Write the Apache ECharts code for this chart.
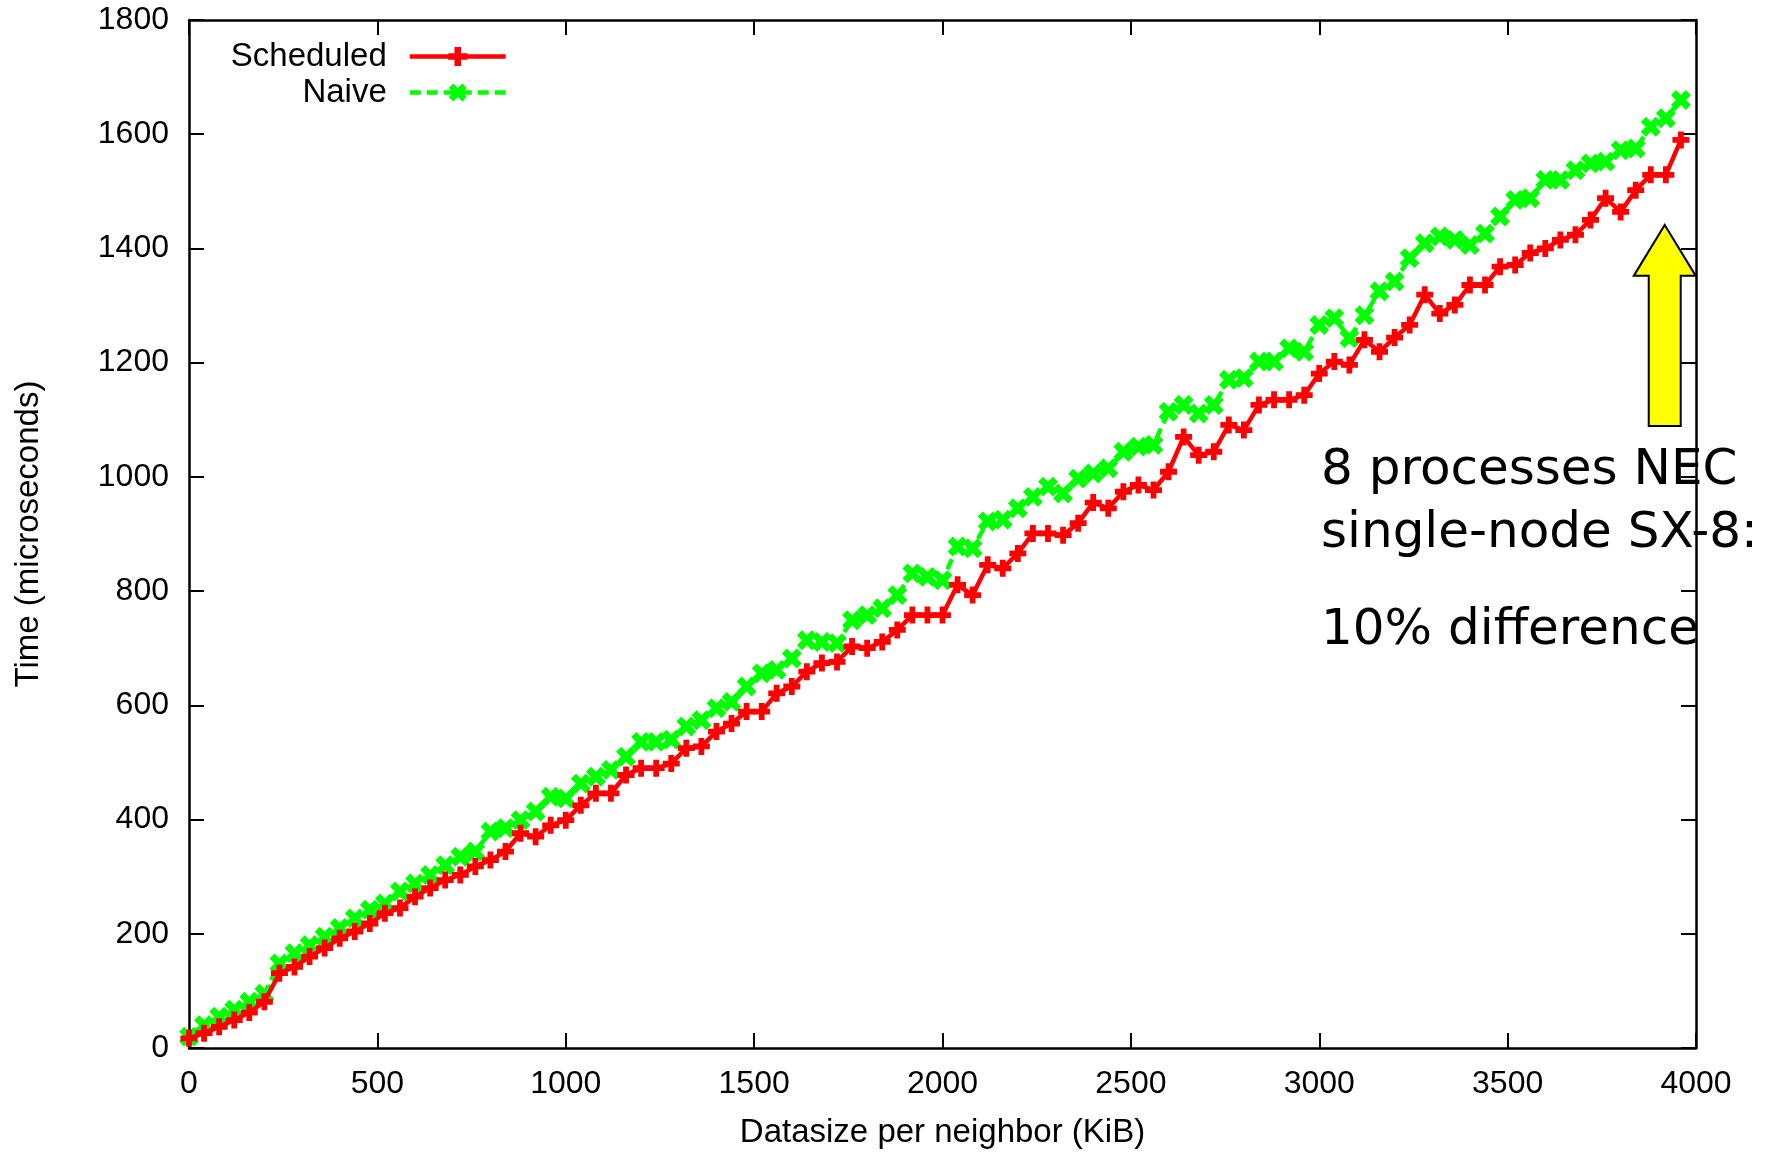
<!DOCTYPE html>
<html>
<head>
<meta charset="utf-8">
<script src="https://cdn.jsdelivr.net/npm/echarts/dist/echarts.min.js"></script>
<style>html,body{margin:0;padding:0;background:#fff}#c{width:1767px;height:1155px}</style>
</head>
<body>
<div id="c"></div>
<script>
// Datasize per neighbor (KiB)
const datasize = [0,40,80,120,160,200,240,280,320,360,400,440,480,520,560,600,640,680,720,760,
  800,840,880,920,960,1000,1040,1080,1120,1160,1200,1240,1280,1320,1360,1400,1440,1480,1520,1560,
  1600,1640,1680,1720,1760,1800,1840,1880,1920,1960,2000,2040,2080,2120,2160,2200,2240,2280,2320,2360,
  2400,2440,2480,2520,2560,2600,2640,2680,2720,2760,2800,2840,2880,2920,2960,3000,3040,3080,3120,3160,
  3200,3240,3280,3320,3360,3400,3440,3480,3520,3560,3600,3640,3680,3720,3760,3800,3840,3880,3920,3960];
// Time (microseconds)
const scheduled = [17,26,37,49,62,81,131,142,160,175,192,204,218,236,245,265,280,294,303,318,
  329,344,376,370,390,399,425,446,446,478,490,490,498,525,528,554,568,589,589,621,
  633,659,674,676,703,700,711,732,758,758,758,811,793,846,840,866,901,901,898,919,
  955,945,974,986,977,1009,1070,1038,1044,1091,1082,1126,1135,1135,1143,1181,1202,1196,1240,1219,
  1244,1266,1319,1286,1301,1336,1336,1368,1371,1392,1400,1415,1424,1450,1488,1464,1502,1529,1529,1590];
const naive = [20,40,55,67,81,95,148,166,180,195,210,227,242,253,274,288,303,320,335,344,
  379,385,399,414,440,437,463,475,487,510,536,536,540,563,574,595,606,633,656,662,
  682,714,711,709,749,758,770,793,831,825,819,878,875,922,925,945,965,983,971,997,
  1006,1015,1044,1053,1056,1114,1126,1111,1126,1170,1173,1202,1202,1225,1219,1266,1278,1243,1283,1325,
  1342,1383,1409,1421,1415,1406,1426,1456,1485,1488,1520,1520,1537,1549,1552,1572,1575,1613,1628,1660];
const seriesNames = ['Scheduled', 'Naive'];
const xTitle = 'Datasize per neighbor (KiB)';
const yTitle = 'Time (microseconds)';
const noteLines = ['8 processes NEC', 'single-node SX-8:', '10% difference'];
// annotation arrow (data coords): x, apex, head base, tail
const arrowX = 3917, arrowApex = 1441, arrowHeadBase = 1352, arrowTail = 1089;

const FONT = 'Liberation Sans, Arial, Helvetica, sans-serif';
const plusPath = 'path://M-1.7,-5L1.7,-5L1.7,-1.7L5,-1.7L5,1.7L1.7,1.7L1.7,5L-1.7,5L-1.7,1.7L-5,1.7L-5,-1.7L-1.7,-1.7Z';

function pairs(xs, ys) { return xs.map((x, i) => [x, ys[i]]); }
const plain = v => String(v);

const chart = echarts.init(document.getElementById('c'), null, {renderer: 'canvas'});

const axisCommon = {
  axisLine: {show: true, onZero: false, lineStyle: {color: '#000', width: 2.5}},
  axisTick: {show: true, inside: true, length: 15, lineStyle: {color: '#000', width: 2}},
  splitLine: {show: false}
};

const option = {
  animation: false,
  backgroundColor: '#fff',
  grid: {left: 189, right: 71, top: 20, bottom: 107, outerBoundsMode: 'none'},
  legend: {
    orient: 'vertical', align: 'right', right: 1254, top: 35, itemGap: 3,
    itemWidth: 96, itemHeight: 24,
    lineStyle: {width: 4.5},
    textStyle: {fontFamily: FONT, fontSize: 33, color: '#000', padding: [0, 18, 0, 0]},
    data: seriesNames
  },
  xAxis: [
    Object.assign({}, axisCommon, {
      type: 'value', min: 0, max: 4000, interval: 500, position: 'bottom',
      name: xTitle, nameLocation: 'middle', nameGap: 68,
      nameTextStyle: {fontFamily: FONT, fontSize: 33, color: '#000'},
      axisLabel: {margin: 20, fontSize: 32, color: '#000', fontFamily: FONT, formatter: plain, showMinLabel: true, showMaxLabel: true}
    }),
    Object.assign({}, axisCommon, {
      type: 'value', min: 0, max: 4000, interval: 500, position: 'top',
      axisLabel: {show: false}
    })
  ],
  yAxis: [
    Object.assign({}, axisCommon, {
      type: 'value', min: 0, max: 1800, interval: 200, position: 'left',
      name: yTitle, nameLocation: 'middle', nameGap: 144, nameRotate: 90,
      nameTextStyle: {fontFamily: FONT, fontSize: 33, color: '#000'},
      axisLabel: {margin: 20, fontSize: 32, color: '#000', fontFamily: FONT, formatter: plain, showMinLabel: true, showMaxLabel: true}
    }),
    Object.assign({}, axisCommon, {
      type: 'value', min: 0, max: 1800, interval: 200, position: 'right',
      axisLabel: {show: false}
    })
  ],
  series: [
    {
      name: seriesNames[0], type: 'line', xAxisIndex: 0, yAxisIndex: 0,
      data: pairs(datasize, scheduled),
      symbol: plusPath, symbolSize: 17, symbolKeepAspect: true,
      lineStyle: {color: '#ff0000', width: 4.5, type: 'solid'},
      itemStyle: {color: '#ff0000'},
      emphasis: {disabled: true}, z: 3
    },
    {
      name: seriesNames[1], type: 'line', xAxisIndex: 0, yAxisIndex: 0,
      data: pairs(datasize, naive),
      symbol: plusPath, symbolSize: 21, symbolRotate: 45, symbolKeepAspect: true,
      lineStyle: {color: '#00ff00', width: 4.5, type: [11, 6]},
      itemStyle: {color: '#00ff00'},
      emphasis: {disabled: true}, z: 2
    }
  ]
};
chart.setOption(option);

const p = (x, y) => chart.convertToPixel({xAxisIndex: 0, yAxisIndex: 0}, [x, y]);
const apex = p(arrowX, arrowApex), base = p(arrowX, arrowHeadBase), tail = p(arrowX, arrowTail);
const cx = apex[0], hw = 31, sw = 16;
const NOTE_FONT = 'DejaVu Sans, Verdana, sans-serif';
chart.setOption({
  graphic: [
    {type: 'polygon', z: 100, shape: {points: [
      [cx, apex[1]], [cx + hw, base[1]], [cx + sw, base[1]], [cx + sw, tail[1]],
      [cx - sw, tail[1]], [cx - sw, base[1]], [cx - hw, base[1]]]},
      style: {fill: '#ffff00', stroke: '#000', lineWidth: 2}},
    {type: 'text', z: 100, left: 1321, top: 446, style: {text: noteLines[0], font: '50px ' + NOTE_FONT, fill: '#000'}},
    {type: 'text', z: 100, left: 1321, top: 509, style: {text: noteLines[1], font: '50px ' + NOTE_FONT, fill: '#000'}},
    {type: 'text', z: 100, left: 1321, top: 606, style: {text: noteLines[2], font: '50px ' + NOTE_FONT, fill: '#000'}}
  ]
});
</script>
</body>
</html>
